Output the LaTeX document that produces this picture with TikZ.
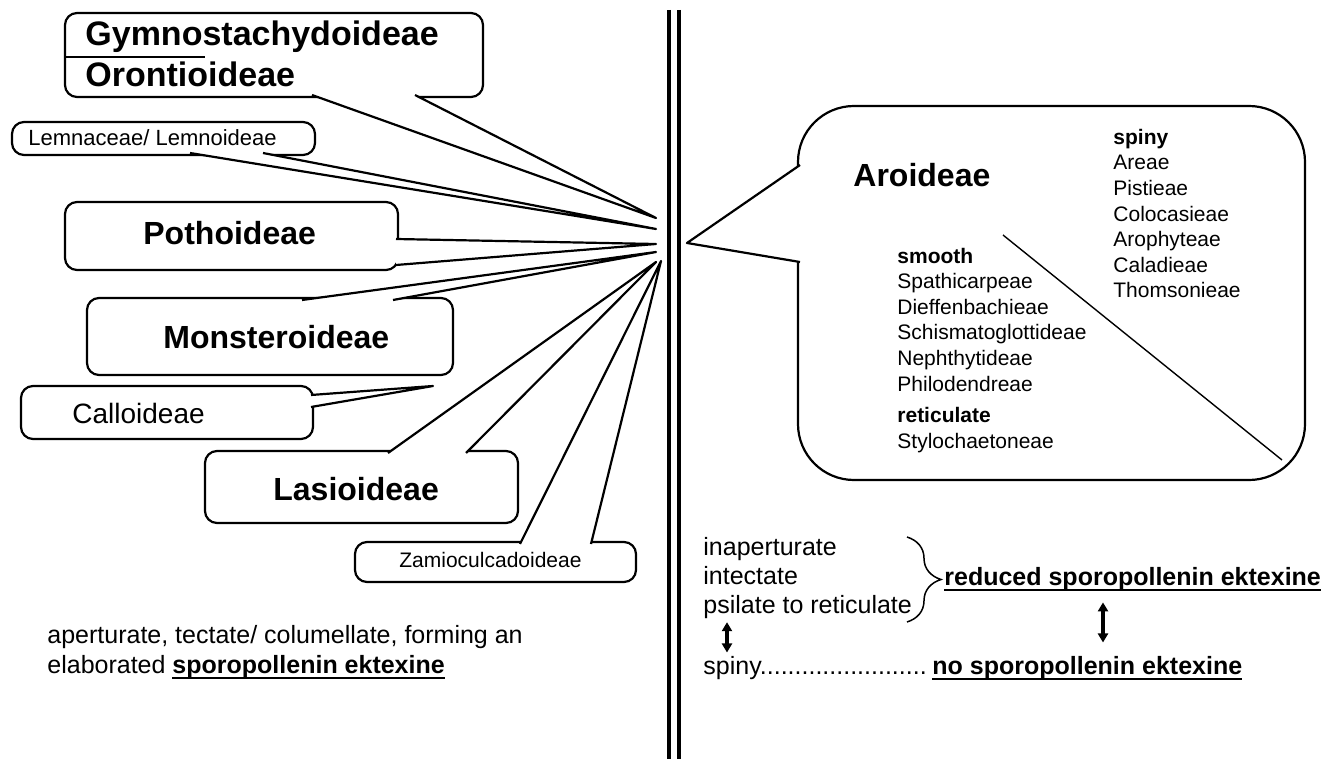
\documentclass[tikz,border=0pt]{standalone}
\usepackage{fontspec}
\setmainfont{Liberation Sans}
\usetikzlibrary{arrows.meta,decorations.pathreplacing}

% bold text with a low underline
\newcommand{\ulbf}[1]{\setbox0\hbox{\bfseries #1}\rlap{\rule[-3.1pt]{\wd0}{1.3pt}}\box0}

\begin{document}
\begin{tikzpicture}[x=0.5pt,y=-0.5pt,
	callbox/.style={draw,fill=white,line width=1.1pt,rounded corners=6pt},
	calltail/.style={draw,fill=white,line width=1.1pt,line join=round},
	lbl/.style={anchor=base west,inner sep=0pt},
	subfam/.style={lbl,font=\fontsize{16}{19}\selectfont\bfseries},
	tribe/.style={lbl,align=left,font=\fontsize{10.5}{12.8}\selectfont},
	note/.style={lbl,font=\fontsize{12.5}{15}\selectfont},
	updown/.style={<->,>={Triangle[width=5pt,length=4.5pt]},line width=1.8pt}]
	\useasboundingbox (0,0) rectangle (1322,759);

	% the divide
	\draw[line width=1.8pt] (669,10) -- (669,759);
	\draw[line width=1.8pt] (679,10) -- (679,759);

	% left side: callouts
	\draw[callbox] (65,13) rectangle (483,97);
	\draw[calltail] (312,95) -- (656,218) -- (415,95);
	\draw[line width=0.7pt] (65,57) -- (205,57);
	\node[subfam,font=\fontsize{17}{20}\selectfont\bfseries] (gymno) at (85,46) {Gymnostachydoideae};
	\node[subfam,font=\fontsize{17}{20}\selectfont\bfseries] (oront) at (85,87) {Orontioideae};

	\draw[callbox] (12,122) rectangle (315,155);
	\draw[calltail] (190,153) -- (656,229) -- (263,153);
	\node[lbl,font=\fontsize{11}{13}\selectfont] (lemn) at (28,146) {Lemnaceae/ Lemnoideae};

	\draw[callbox] (65,202) rectangle (398,270);
	\draw[calltail] (396,239) -- (656,244) -- (396,265);
	\node[subfam] (potho) at (143,245) {Pothoideae};

	\draw[callbox] (87,298) rectangle (453,375);
	\draw[calltail] (302,300) -- (656,252) -- (393,300);
	\node[subfam] (monst) at (163,348) {Monsteroideae};

	\draw[callbox] (21,386) rectangle (313,439);
	\draw[calltail] (311,395) -- (433,386) -- (311,407);
	\node[lbl,font=\fontsize{14}{17}\selectfont] (callo) at (72,423) {Calloideae};

	\draw[callbox] (205,451) rectangle (518,523);
	\draw[calltail] (388,453) -- (656,262) -- (466,453);
	\node[subfam] (lasio) at (273,500) {Lasioideae};

	\draw[callbox] (355,542) rectangle (636,582);
	\draw[calltail] (520,544) -- (661,261) -- (591,544);
	\node[lbl,font=\fontsize{10.5}{12.5}\selectfont] (zamio) at (399,567) {Zamioculcadoideae};

	% (multi-line nodes sit on the baseline of their last line)
	\node[note,align=left] (elab) at (47,673) {aperturate, tectate/ columellate, forming an\\elaborated \ulbf{sporopollenin ektexine}};

	% right side: Aroideae
	\draw[callbox,rounded corners=28pt] (798,106) rectangle (1305,480);
	\draw[calltail] (800,165) -- (687,243) -- (800,262);
	\draw[line width=0.7pt] (1003,235) -- (1282,460);
	\node[subfam] (aro) at (853,187) {Aroideae};
	\node[tribe] (spiny) at (1113,298) {\textbf{spiny}\\Areae\\Pistieae\\Colocasieae\\Arophyteae\\Caladieae\\Thomsonieae};
	\node[tribe] (smooth) at (897,391) {\textbf{smooth}\\Spathicarpeae\\Dieffenbachieae\\Schismatoglottideae\\Nephthytideae\\Philodendreae};
	\node[tribe] (retic) at (897,448) {\textbf{reticulate}\\Stylochaetoneae};

	\node[note,align=left,font=\fontsize{12.5}{14.5}\selectfont] (traits) at (703,613) {inaperturate\\intectate\\psilate to reticulate};
	\draw[line width=0.75pt,decorate,decoration={brace,amplitude=17pt}] (907,537) -- (907,622);
	\node[note] (reduced) at (944,585) {\ulbf{reduced sporopollenin ektexine}};
	\node[note] (spinyline) at (703,674) {spiny........................};
	\node[note] (nospo) at (932,674) {\ulbf{no sporopollenin ektexine}};

	\draw[updown,shorten <=1.8pt,shorten >=1.5pt] ([xshift=12pt]traits.south west) -- ([xshift=12pt]traits.south west |- spinyline.north);
	\draw[updown,shorten <=5.4pt,shorten >=6.5pt] ([xshift=79.5pt]reduced.south west) -- ([xshift=79.5pt]reduced.south west |- nospo.north);
\end{tikzpicture}
\end{document}
